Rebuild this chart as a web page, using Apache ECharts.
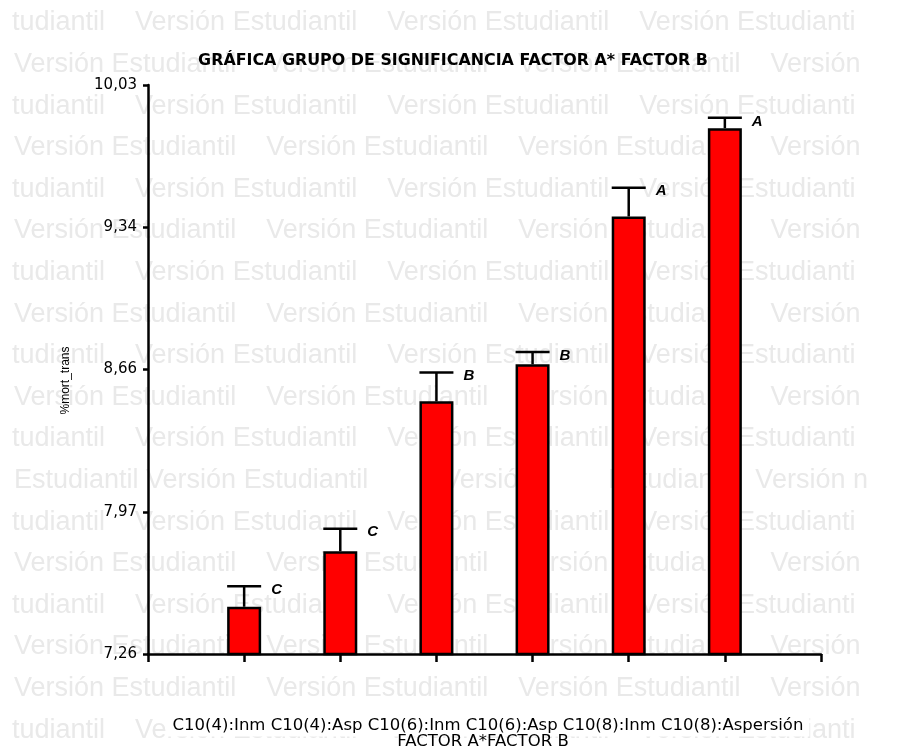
<!DOCTYPE html>
<html>
<head>
<meta charset="utf-8">
<script src="https://cdn.jsdelivr.net/npm/echarts@6/dist/echarts.min.js"></script>
<style>
  html, body { margin: 0; padding: 0; background: #fff; }
  #chart { width: 897px; height: 749px; }
</style>
</head>
<body>
<div id="chart"></div>
<script>
var categories = ['C10(4):Inm', 'C10(4):Asp', 'C10(6):Inm', 'C10(6):Asp', 'C10(8):Inm', 'C10(8):Aspersión'];
var means = [7.49, 7.76, 8.49, 8.67, 9.39, 9.82];
var errors = [0.10, 0.11, 0.14, 0.06, 0.14, 0.05];
var groups = ['C', 'C', 'B', 'B', 'A', 'A'];
var yTickLabels = ['7,26', '7,97', '8,66', '9,34', '10,03'];

var myChart = echarts.init(document.getElementById('chart'));

// watermark rows ("Versión Estudiantil" background)
var wmA = 'tudiantil    Versión Estudiantil    Versión Estudiantil    Versión Estudianti';
var wmB = 'Versión Estudiantil    Versión Estudiantil    Versión Estudiantil    Versión';
var wmC = 'Estudiantil Versión Estudiantil          Versión          Estudiantil   Versión n';
var watermark = [];
for (var r = 0; r < 18; r++) {
	var txt = r % 2 ? wmB : wmA;
	if (r === 11) txt = wmC;
	if (r === 16) txt = wmB;
	if (r === 17) txt = wmA;
	watermark.push({
		type: 'text',
		x: txt === wmA ? 12 : 14,
		y: 23 + r * 41.6,
		z: -10,
		silent: true,
		style: {
			text: txt,
			fill: '#e9e9e9',
			font: '27px "Liberation Sans", Arial, sans-serif',
			verticalAlign: 'middle'
		}
	});
}

var barData = means.map(function (v, i) { return [i + 1, v]; });
var errData = means.map(function (v, i) { return [i + 1, v, v + errors[i], groups[i]]; });

option = {
	animation: false,
	backgroundColor: '#fff',
	graphic: watermark.concat([{
		type: 'text',
		x: 453,
		y: 61,
		style: {
			text: 'GRÁFICA GRUPO DE SIGNIFICANCIA FACTOR A* FACTOR B',
			fill: '#000',
			font: 'bold 15.9px "DejaVu Sans", sans-serif',
			align: 'center',
			verticalAlign: 'middle'
		}
	}, {
		type: 'text',
		x: 488,
		y: 726,
		style: {
			text: categories.join(' '),
			fill: '#000',
			font: '16.5px "DejaVu Sans", sans-serif',
			align: 'center',
			verticalAlign: 'middle',
			backgroundColor: '#fff',
			padding: [2, 6, 2, 6]
		}
	}, {
		type: 'text',
		x: 483,
		y: 742,
		style: {
			text: 'FACTOR A*FACTOR B',
			fill: '#000',
			font: '16.5px "DejaVu Sans", sans-serif',
			align: 'center',
			verticalAlign: 'middle'
		}
	}]),
	grid: {
		left: 148,
		right: 76,
		top: 85,
		bottom: 95
	},
	xAxis: {
		type: 'value',
		min: 0,
		max: 7,
		interval: 1,
		splitLine: { show: false },
		axisLine: { lineStyle: { color: '#000', width: 2.5 } },
		axisTick: { length: 8, lineStyle: { color: '#000', width: 2.5 } },
		axisLabel: { show: false }
	},
	yAxis: {
		type: 'value',
		min: 7.26,
		max: 10.03,
		interval: 0.6925,
		name: '%mort_trans',
		nameLocation: 'middle',
		nameRotate: 90,
		nameGap: 76,
		nameTextStyle: {
			fontFamily: '"Liberation Sans", Arial',
			fontSize: 12,
			color: '#000',
			padding: [0, 22, 0, 0]
		},
		splitLine: { show: false },
		axisLine: { show: true, lineStyle: { color: '#000', width: 2.5 } },
		axisTick: { show: true, length: 5, lineStyle: { color: '#000', width: 2.5 } },
		axisLabel: {
			margin: 11,
			color: '#000',
			fontFamily: '"DejaVu Sans", sans-serif',
			fontSize: 15,
			formatter: function (v, idx) { return yTickLabels[idx] || ''; }
		}
	},
	series: [{
		type: 'bar',
		data: barData,
		barWidth: 34,
		itemStyle: {
			color: '#ff0000',
			borderColor: '#000',
			borderWidth: 2.5
		}
	}, {
		type: 'custom',
		data: errData,
		z: 5,
		renderItem: function (params, api) {
			var base = api.coord([api.value(0), api.value(1)]);
			var top = api.coord([api.value(0), api.value(2)]);
			var half = 17;
			return {
				type: 'group',
				children: [{
					type: 'line',
					shape: { x1: top[0], y1: base[1], x2: top[0], y2: top[1] },
					style: { stroke: '#000', lineWidth: 2.5 }
				}, {
					type: 'line',
					shape: { x1: top[0] - half, y1: top[1], x2: top[0] + half, y2: top[1] },
					style: { stroke: '#000', lineWidth: 2.5 }
				}, {
					type: 'text',
					x: top[0] + 27,
					y: top[1] - 4,
					style: {
						text: api.value(3),
						fill: '#000',
						font: 'italic bold 15px "Liberation Sans", Arial'
					}
				}]
			};
		}
	}]
};

myChart.setOption(option);
</script>
</body>
</html>
